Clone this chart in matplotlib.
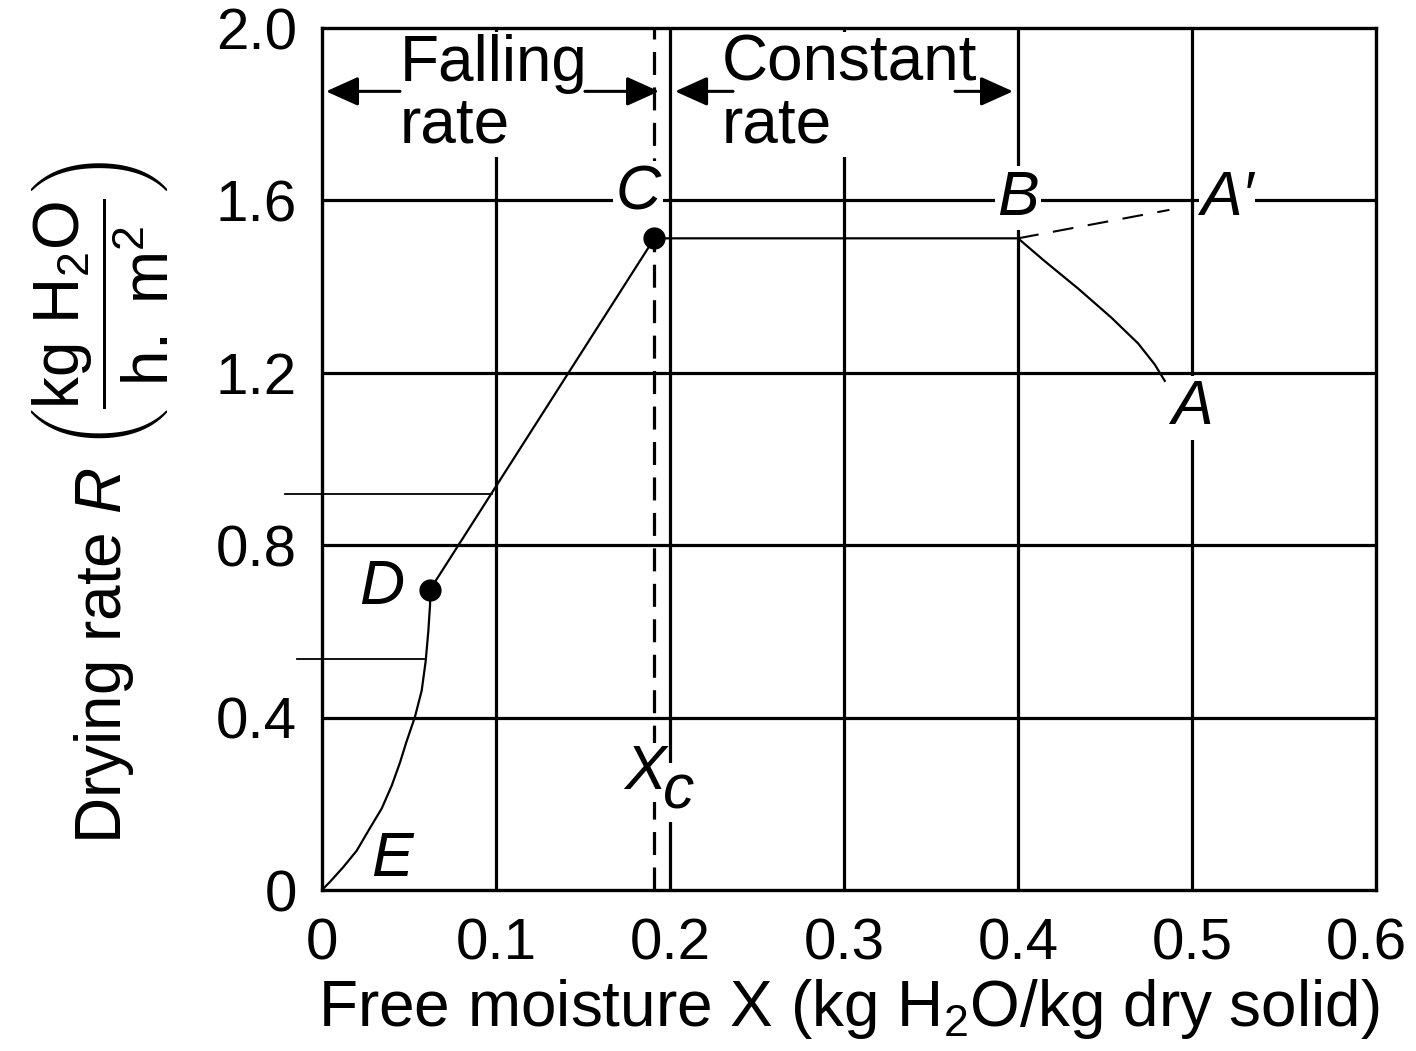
import matplotlib
matplotlib.use("Agg")
import matplotlib.pyplot as plt

plt.rcParams['font.family'] = ['Liberation Sans', 'DejaVu Sans']
plt.rcParams['mathtext.fontset'] = 'custom'
plt.rcParams['mathtext.rm'] = 'Liberation Sans'
plt.rcParams['mathtext.it'] = 'Liberation Sans:italic'
plt.rcParams['mathtext.bf'] = 'Liberation Sans:bold'

# ---- data ----
x_ticks = [0, 0.1, 0.2, 0.3, 0.4, 0.5, 0.6]
x_tick_labels = ["0", "0.1", "0.2", "0.3", "0.4", "0.5", "0.6"]
y_ticks = [0, 0.4, 0.8, 1.2, 1.6, 2.0]
y_tick_labels = ["0", "0.4", "0.8", "1.2", "1.6", "2.0"]

# falling-rate curve E -> D
fall_x = [0.0, 0.0046, 0.0122, 0.0199, 0.0276, 0.0343, 0.0401, 0.0448, 0.0483,
          0.0534, 0.0573, 0.0596, 0.0611, 0.0621, 0.0621]
fall_y = [0.0, 0.019, 0.053, 0.091, 0.144, 0.189, 0.2425, 0.2955, 0.341,
          0.4016, 0.4628, 0.5317, 0.6007, 0.6621, 0.697]
# D -> C -> B
mid_x = [0.0621, 0.191, 0.40]
mid_y = [0.697, 1.512, 1.512]
# B -> A (initial adjustment curve)
warm_x = [0.40, 0.4153, 0.4345, 0.4536, 0.4690, 0.4785, 0.4843]
warm_y = [1.512, 1.4591, 1.3955, 1.3281, 1.2681, 1.2196, 1.1814]
# B -> A' dashed
bap_x = [0.40, 0.4870]
bap_y = [1.512, 1.578]
# marked points C, D
dot_x = [0.191, 0.0621]
dot_y = [1.512, 0.697]
# critical moisture
x_c = 0.191
# short guide lines on the left
guide_y = [0.919, 0.536]
guide_x0 = [-0.0213, -0.0144]
guide_x1 = [0.0975, 0.0585]

fig = plt.figure(figsize=(14.16, 10.51), dpi=100)
ax = fig.add_axes([322/1416, 1 - 890/1051, (1376-322)/1416, (890-28)/1051])
ax.set_xlim(0, 0.6057)
ax.set_ylim(0, 2.0)

GL = 2.3
for yv in y_ticks[1:-1]:
    ax.axhline(yv, color='black', lw=GL, zorder=1.5)
for xv in x_ticks[1:-1]:
    z = 3.5 if xv == 0.2 else 1
    ax.axvline(xv, color='black', lw=GL, zorder=z)

ax.axvline(x_c, color='black', lw=GL, dashes=(7.2, 3.9), zorder=1.4)

for yv, a, b in zip(guide_y, guide_x0, guide_x1):
    ax.plot([a, b], [yv, yv], color='black', lw=1.3, clip_on=False, zorder=2)

ax.plot(fall_x, fall_y, color='black', lw=1.6, zorder=5, solid_joinstyle='round')
ax.plot(mid_x, mid_y, color='black', lw=1.6, zorder=5)
ax.plot(warm_x, warm_y, color='black', lw=1.6, zorder=5, solid_joinstyle='round')
ax.plot(bap_x, bap_y, color='black', lw=1.5, dashes=(10, 7), zorder=5)
ax.plot(dot_x, dot_y, 'o', color='black', ms=15, zorder=6)

LF = 45
bb = dict(facecolor='white', edgecolor='none', pad=2)
ax.text(0.1816, 1.617, "C", fontsize=LF, style='italic', ha='center', va='center',
        bbox=bb, zorder=2)
ax.text(0.400, 1.605, "B", fontsize=LF, style='italic', ha='center', va='center',
        bbox=bb, zorder=2)
ax.text(0.5045, 1.605, "A\u2032", fontsize=LF, style='italic', ha='left', va='center',
        bbox=dict(facecolor='white', edgecolor='none', pad=1), zorder=2)
ax.text(0.500, 1.119, "A", fontsize=LF, style='italic', ha='center', va='center',
        bbox=bb, zorder=1.2)
ax.text(0.0345, 0.703, "D", fontsize=LF, style='italic', ha='center', va='center', zorder=2)
ax.text(0.040, 0.0705, "E", fontsize=LF, style='italic', ha='center', va='center', zorder=2)
# X_c label
ax.text(0.1856, 0.2727, "X", fontsize=LF, style='italic', ha='center', va='center',
        bbox=dict(facecolor='white', edgecolor='none', pad=0), zorder=4)
ax.text(0.2052, 0.2273, "c", fontsize=LF, style='italic', ha='center', va='center',
        bbox=dict(facecolor='white', edgecolor='none', pad=0), zorder=4)

# region annotations
ax.text(0.0448, 1.845, "Falling\nrate", fontsize=46, ha='left', va='center',
        linespacing=1.05, bbox=dict(facecolor='white', edgecolor='none', pad=1), zorder=3)
ax.text(0.2299, 1.845, "Constant\nrate", fontsize=46, ha='left', va='center',
        linespacing=1.05, bbox=dict(facecolor='white', edgecolor='none', pad=1), zorder=3)
arr = dict(arrowstyle='-|>,head_length=1.0,head_width=0.45', lw=2.2, color='black',
           shrinkA=0, shrinkB=0, mutation_scale=20)
arrows = [(0.0448, 0.0023), (0.1511, 0.1937), (0.2362, 0.2029), (0.3638, 0.3971)]
for a, b in arrows:
    ax.annotate("", xy=(b, 1.853), xytext=(a, 1.853), arrowprops=arr, zorder=6)

ax.set_xticks(x_ticks)
ax.set_xticklabels(x_tick_labels)
ax.set_yticks(y_ticks)
ax.set_yticklabels(y_tick_labels)
ax.tick_params(axis='both', length=0, labelsize=42)
ax.tick_params(axis='x', pad=20)
ax.tick_params(axis='y', pad=18)

for sp in ax.spines.values():
    sp.set_linewidth(2.4)
    sp.set_zorder(10)

ax.set_xlabel(r"Free moisture X (kg H$_2$O/kg dry solid)", fontsize=46, labelpad=4)
fig.text(100/1416, 1 - 502/1051,
         r"Drying rate $R$ $\left(\dfrac{\mathrm{kg\ H_2O}}{\mathrm{h.\ m^2}}\right)$",
         fontsize=46, rotation=90, ha='center', va='center', rotation_mode='anchor')

fig.savefig("out.png", dpi=100)
